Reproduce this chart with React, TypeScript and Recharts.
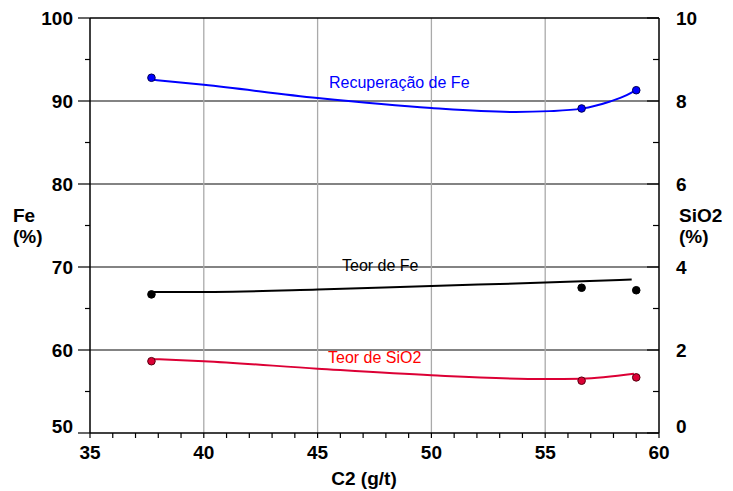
import {
  ComposedChart,
  Line,
  Scatter,
  XAxis,
  YAxis,
  CartesianGrid,
  ReferenceLine,
} from "recharts";

const FONT = "'Liberation Sans', Arial, sans-serif";

// measured points (C2 dosage, g/t)
const c2Obs = [37.7, 56.6, 59.0];
const recFeObs = [92.8, 89.1, 91.3];
const teorFeObs = [66.7, 67.5, 67.2];
const teorSiO2Obs = [1.73, 1.26, 1.34];

// fitted trend curves
const recFeFitX = [37.8, 40, 45, 50, 53.7, 55.2, 56.6, 57.85, 58.58, 58.95];
const recFeFitY = [92.55, 91.95, 90.35, 89.15, 88.68, 88.78, 89.08, 89.94, 90.7, 91.25];
const teorFeFitX = [37.8, 40.45, 45, 50, 55, 58.8];
const teorFeFitY = [67.0, 67.0, 67.28, 67.72, 68.12, 68.5];
const sio2FitX = [37.8, 40, 45, 50, 55, 56.6, 58.9];
const sio2FitY = [1.78, 1.73, 1.55, 1.39, 1.3, 1.31, 1.43];

// axis ticks
const c2Ticks = [35, 36, 37, 38, 39, 40, 41, 42, 43, 44, 45, 46, 47, 48, 49, 50, 51, 52, 53, 54, 55, 56, 57, 58, 59, 60];
const c2Labels = [35, 40, 45, 50, 55, 60];
const c2Grid = [40, 45, 50, 55];
const feTicks = [50, 55, 60, 65, 70, 75, 80, 85, 90, 95, 100];
const feLabels = [50, 60, 70, 80, 90, 100];
const feGrid = [60, 70, 80, 90];
const sio2Ticks = [0, 1, 2, 3, 4, 5, 6, 7, 8, 9, 10];
const sio2Labels = [0, 2, 4, 6, 8, 10];

const pairs = (xs: number[], ys: number[]) => xs.map((x, i) => ({ x, y: ys[i] }));

const recFeFit = pairs(recFeFitX, recFeFitY);
const teorFeFit = pairs(teorFeFitX, teorFeFitY);
const sio2Fit = pairs(sio2FitX, sio2FitY);
const recFePts = pairs(c2Obs, recFeObs);
const teorFePts = pairs(c2Obs, teorFeObs);
const sio2Pts = pairs(c2Obs, teorSiO2Obs);

const BLUE = "#0000ff";
const RED = "#dc0035";

const labelStyle = { fontFamily: FONT, fontSize: 19, fontWeight: 700, fill: "#000" };

function LeftTick(props: any) {
  const { x, y, payload } = props;
  const v = payload.value;
  const major = feLabels.includes(v);
  return (
    <g>
      <line x1={x - (major ? 12 : 5)} x2={x} y1={y} y2={y} stroke="#000" strokeWidth={1.2} />
      {major && (
        <text x={x - 17} y={v === 50 ? y : y + 7} textAnchor="end" {...labelStyle}>
          {v}
        </text>
      )}
    </g>
  );
}

function RightTick(props: any) {
  const { x, y, payload } = props;
  const v = payload.value;
  const major = sio2Labels.includes(v);
  return (
    <g>
      <line x1={x - (major ? 12 : 6)} x2={x} y1={y} y2={y} stroke="#000" strokeWidth={1.2} />
      {major && (
        <text x={x + 17} y={v === 0 ? y : y + 7} textAnchor="start" {...labelStyle}>
          {v}
        </text>
      )}
    </g>
  );
}

function BottomTick(props: any) {
  const { x, y, payload } = props;
  const v = payload.value;
  const major = c2Labels.includes(v);
  return (
    <g>
      <line x1={x} x2={x} y1={y} y2={y + 5} stroke="#000" strokeWidth={1.2} />
      {major && (
        <text x={x} y={y + 26} textAnchor="middle" {...labelStyle}>
          {v}
        </text>
      )}
    </g>
  );
}

const dotShape = (fill: string, stroke: string) => (p: any) => (
  <circle cx={p.cx} cy={p.cy} r={3.8} fill={fill} stroke={stroke} strokeWidth={1} />
);

export default function App() {
  return (
    <div style={{ position: "absolute", left: 0, top: 0, width: 733, height: 491, background: "#fff" }}>
      <ComposedChart
        width={733}
        height={491}
        margin={{ top: 18, right: 0, bottom: 0, left: 0 }}
      >
        <CartesianGrid
          yAxisId="fe"
          vertical={false}
          horizontalValues={feGrid}
          stroke="#5a5a5a"
          strokeWidth={1.3}
        />
        <CartesianGrid
          yAxisId="fe"
          horizontal={false}
          verticalValues={c2Grid}
          stroke="#aaa"
          strokeWidth={1.3}
        />
        <XAxis
          type="number"
          dataKey="x"
          domain={[35, 60]}
          ticks={c2Ticks}
          interval={0}
          height={58}
          tickSize={0}
          tickMargin={0}
          tickLine={false}
          tick={BottomTick}
          axisLine={{ stroke: "#000", strokeWidth: 1.5 }}
          allowDataOverflow
        />
        <YAxis
          yAxisId="fe"
          orientation="left"
          type="number"
          domain={[50, 100]}
          ticks={feTicks}
          interval={0}
          width={90}
          tickSize={0}
          tickMargin={0}
          tickLine={false}
          tick={LeftTick}
          axisLine={{ stroke: "#000", strokeWidth: 1.5 }}
          allowDataOverflow
        />
        <YAxis
          yAxisId="sio2"
          orientation="right"
          type="number"
          domain={[0, 10]}
          ticks={sio2Ticks}
          interval={0}
          width={74}
          tickSize={0}
          tickMargin={0}
          tickLine={false}
          tick={RightTick}
          axisLine={{ stroke: "#000", strokeWidth: 1.5 }}
          allowDataOverflow
        />
        <ReferenceLine yAxisId="fe" y={100} stroke="#000" strokeWidth={1.5} />

        <Line
          yAxisId="fe"
          data={recFeFit}
          dataKey="y"
          type="monotone"
          stroke={BLUE}
          strokeWidth={2}
          dot={false}
          activeDot={false}
          isAnimationActive={false}
        />
        <Line
          yAxisId="fe"
          data={teorFeFit}
          dataKey="y"
          type="monotone"
          stroke="#000"
          strokeWidth={2}
          dot={false}
          activeDot={false}
          isAnimationActive={false}
        />
        <Line
          yAxisId="sio2"
          data={sio2Fit}
          dataKey="y"
          type="monotone"
          stroke={RED}
          strokeWidth={2}
          dot={false}
          activeDot={false}
          isAnimationActive={false}
        />
        <Scatter
          yAxisId="fe"
          data={recFePts}
          dataKey="y"
          shape={dotShape(BLUE, "#000055")}
          isAnimationActive={false}
        />
        <Scatter
          yAxisId="fe"
          data={teorFePts}
          dataKey="y"
          shape={dotShape("#000", "#000")}
          isAnimationActive={false}
        />
        <Scatter
          yAxisId="sio2"
          data={sio2Pts}
          dataKey="y"
          shape={dotShape(RED, "#550010")}
          isAnimationActive={false}
        />
      </ComposedChart>

      <svg
        width={733}
        height={491}
        style={{ position: "absolute", left: 0, top: 0, pointerEvents: "none" }}
      >
        <g fontFamily={FONT} fontSize={16}>
          <text x={329} y={88} fill={BLUE}>Recuperação de Fe</text>
          <text x={342} y={271} fill="#000">Teor de Fe</text>
          <text x={328} y={363} fill="#ff0000">Teor de SiO2</text>
        </g>
        <g {...labelStyle}>
          <text x={13} y={222}>Fe</text>
          <text x={13} y={243}>(%)</text>
          <text x={679} y={222}>SiO2</text>
          <text x={679} y={243}>(%)</text>
          <text x={364} y={485} textAnchor="middle">C2 (g/t)</text>
        </g>
      </svg>
    </div>
  );
}
